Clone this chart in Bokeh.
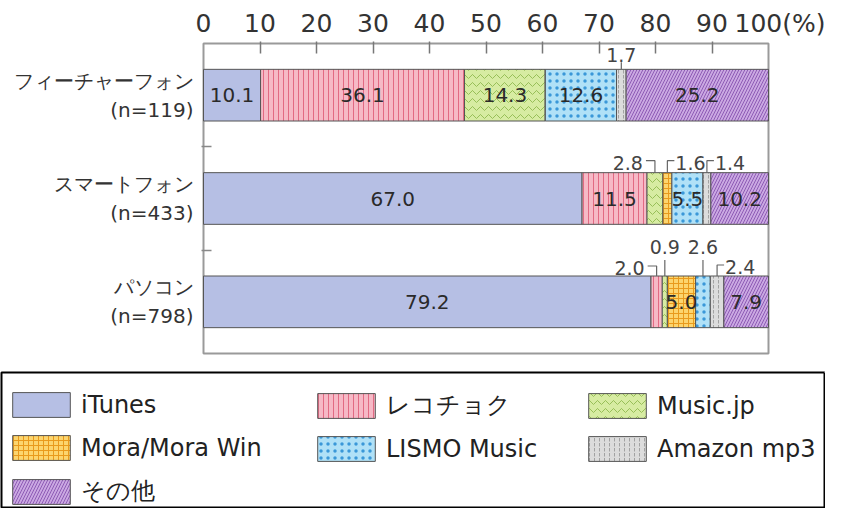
from bokeh.plotting import figure
from bokeh.models import Range1d, FixedTicker, Legend, LegendItem, LinearAxis, ColumnDataSource
from bokeh.layouts import column
from bokeh.embed import file_html
from bokeh.resources import INLINE
from bokeh.core.properties import value

# ---------------- data ----------------
devices = ["フィーチャーフォン\n(n=119)", "スマートフォン\n(n=433)", "パソコン\n(n=798)"]
services = ["iTunes", "レコチョク", "Music.jp", "Mora/Mora Win", "LISMO Music", "Amazon mp3", "その他"]
itunes = [10.1, 67.0, 79.2]
recochoku = [36.1, 11.5, 2.0]
musicjp = [14.3, 2.8, 0.9]
mora = [0.0, 1.6, 5.0]
lismo = [12.6, 5.5, 2.6]
amazon = [1.7, 1.4, 2.4]
other = [25.2, 10.2, 7.9]
x_ticks = [0, 10, 20, 30, 40, 50, 60, 70, 80, 90, 100]
unit_label = "(%)"

series = [itunes, recochoku, musicjp, mora, lismo, amazon, other]

# ---------------- styles ----------------
styles = [
    dict(fill_color="#b6bfe4", hatch_pattern=" ", hatch_color="#b6bfe4", hatch_scale=6, hatch_weight=1),
    dict(fill_color="#f6b9c6", hatch_pattern="|", hatch_color="#e26a83", hatch_scale=5, hatch_weight=1),
    dict(fill_color="#d7eca2", hatch_pattern="v", hatch_color="#98bf58", hatch_scale=8, hatch_weight=1),
    dict(fill_color="#fcd56e", hatch_pattern="+", hatch_color="#e99a1c", hatch_scale=5, hatch_weight=1),
    dict(fill_color="#b0e1f7", hatch_pattern=".", hatch_color="#3a98d8", hatch_scale=7, hatch_weight=2),
    dict(fill_color="#dcdcdc", hatch_pattern=":", hatch_color="#a2a2a2", hatch_scale=5, hatch_weight=1),
    dict(fill_color="#caa8e2", hatch_pattern="/", hatch_color="#8e5bb5", hatch_scale=6, hatch_weight=1),
]

FONT = "DejaVu Sans"
W = 825
H_MAIN, H_LEG = 365, 143
BOX_L, BOX_R, BOX_T, BOX_B = 203, 768, 43, 353      # chart box in pixels
PX_X = 100.0 / (BOX_R - BOX_L)
PX_Y = 3.0 / (BOX_B - BOX_T)
BAR_H = 0.5
FL, FT = BOX_L - 2, BOX_T - 2                          # frame slightly larger than box

p = figure(width=W, height=H_MAIN, output_backend="svg", toolbar_location=None,
           x_range=Range1d(-2 * PX_X, 100 + (W - BOX_R) * PX_X),
           y_range=Range1d(3 + 2 * PX_Y, -2 * PX_Y),
           x_axis_location="above", y_axis_location="left",
           min_border_left=FL, min_border_right=0, min_border_top=FT,
           min_border_bottom=H_MAIN - BOX_B - 2)
p.frame_align = False
p.grid.visible = False
p.outline_line_color = None
p.background_fill_color = "white"
p.border_fill_color = "white"

# chart box
p.quad(left=[0], right=[100], top=[0], bottom=[3], fill_color=None,
       line_color="#9a9a9a", line_width=2)

# top axis 1: tick marks only (inside the box)
xa = p.xaxis[0]
xa.ticker = FixedTicker(ticks=x_ticks[1:-1])
xa.axis_line_color = None
xa.major_tick_in = 12
xa.major_tick_out = 0
xa.major_tick_line_color = "#777777"
xa.major_tick_line_width = 1.5
xa.minor_tick_line_color = None
xa.major_label_standoff = 0
xa.major_label_text_font_size = "1px"
xa.major_label_text_color = None

# top axis 2: tick labels; the last one carries the unit
LABEL_FS = 25
last_pos = 100 + 22 * PX_X
label_ticks = x_ticks[:-1] + [last_pos]
xb = LinearAxis(ticker=FixedTicker(ticks=label_ticks),
                major_label_overrides={last_pos: f"{x_ticks[-1]}{unit_label}"},
                axis_line_color=None, major_tick_line_color=None, minor_tick_line_color=None,
                major_tick_in=0, major_tick_out=0, major_label_standoff=4,
                major_label_text_font=FONT, major_label_text_font_size=f"{LABEL_FS}px",
                major_label_text_color="#333333")
p.add_layout(xb, "above")

# left axis
ya = p.yaxis[0]
centers = [i + 0.5 for i in range(len(devices))]
ya.ticker = FixedTicker(ticks=centers, minor_ticks=[1, 2])
ya.major_label_overrides = {c: d for c, d in zip(centers, devices)}
ya.axis_line_color = None
ya.major_tick_line_color = None
ya.major_tick_in = 0
ya.major_tick_out = 0
ya.minor_tick_in = 10
ya.minor_tick_out = 0
ya.minor_tick_line_color = "#888888"
ya.minor_tick_line_width = 1.5
ya.major_label_standoff = 8
ya.major_label_text_font = FONT
ya.major_label_text_font_size = "20px"
ya.major_label_text_color = "#333333"

# bars
lefts = [0.0] * len(devices)
seg = []
for k, vals in enumerate(series):
    rights = [l + v for l, v in zip(lefts, vals)]
    src = ColumnDataSource(dict(y=centers, left=lefts, right=rights))
    p.hbar(y="y", left="left", right="right", height=BAR_H, source=src,
           line_color="#555555", line_width=1, **styles[k])
    for i in range(len(devices)):
        seg.append((i, k, lefts[i], rights[i], vals[i]))
    lefts = rights

# in-bar labels
ix, iy, it = [], [], []
for (i, k, l, r, v) in seg:
    if v >= 5:
        ix.append((l + r) / 2)
        iy.append(centers[i])
        it.append(f"{v:.1f}")
p.text(x=ix, y=iy, text=it, text_align="center", text_baseline="middle",
       text_font=value(FONT), text_font_size=value("20px"), text_color="#2a2a2a")

# small labels with leader lines
LEADERS = {
    (0, 5): ("up", 7, 14),
    (1, 2): ("left", 12),
    (1, 3): ("right", 12),
    (1, 5): ("right", 12),
    (2, 1): ("left", 10),
    (2, 2): ("up", 16, 29),
    (2, 4): ("up", 16, 29),
    (2, 5): ("right", 11),
}
lx, ly = [], []
txt = {"left": ([], [], []), "center": ([], [], []), "right": ([], [], [])}
for (i, k, l, r, v) in seg:
    if 0 < v < 5 and (i, k) in LEADERS:
        spec = LEADERS[(i, k)]
        cx = (l + r) / 2
        top = centers[i] - BAR_H / 2
        if spec[0] == "up":
            lx.append([cx, cx]); ly.append([top, top - spec[1] * PX_Y])
            t = txt["center"]; t[0].append(cx); t[1].append(top - spec[2] * PX_Y); t[2].append(f"{v:.1f}")
        elif spec[0] == "left":
            h = spec[1] * PX_Y
            lx.append([cx - 9 * PX_X, cx, cx]); ly.append([top - h, top - h, top])
            t = txt["right"]; t[0].append(cx - 12 * PX_X); t[1].append(top - (spec[1] - 2) * PX_Y); t[2].append(f"{v:.1f}")
        else:
            h = spec[1] * PX_Y
            lx.append([cx, cx, cx + 7 * PX_X]); ly.append([top, top - h, top - h])
            t = txt["left"]; t[0].append(cx + 8 * PX_X); t[1].append(top - (spec[1] - 2) * PX_Y); t[2].append(f"{v:.1f}")
p.multi_line(xs=lx, ys=ly, line_color="#666666", line_width=1.2)
for align, (tx, ty, tt) in txt.items():
    if tx:
        p.text(x=tx, y=ty, text=tt, text_align=align, text_baseline="middle",
               text_font=value(FONT), text_font_size=value("19px"), text_color="#444444")

# ---------------- legend panel ----------------
lg = figure(width=W, height=H_LEG, output_backend="svg", toolbar_location=None,
            x_range=Range1d(0, 1), y_range=Range1d(0, 1),
            x_axis_location=None, y_axis_location=None,
            min_border_left=1, min_border_right=1, min_border_top=7, min_border_bottom=1)
lg.frame_align = False
lg.grid.visible = False
lg.outline_line_color = "black"
lg.outline_line_width = 2
lg.background_fill_color = "white"
lg.border_fill_color = "white"

# legend proxies (one sample each, kept outside the visible range)
swatches = []
for k in range(len(services)):
    swatches.append(lg.hbar(y=[5], left=[5], right=[6], height=0.1,
                            line_color="#555555", line_width=1, **styles[k]))

LEG_COLS = [[0, 3, 6], [1, 4], [2, 5]]
COL_X = [4, 309, 580]
ITEM_H, SPACING = 31, 12
frame_h = H_LEG - 7 - 1
top_local = 390 - H_MAIN - 7
for col, xpos in zip(LEG_COLS, COL_X):
    n = len(col)
    h = n * ITEM_H + (n - 1) * SPACING
    leg = Legend(items=[LegendItem(label=services[k], renderers=[swatches[k]]) for k in col],
                 location=(xpos, frame_h - top_local - h), orientation="vertical",
                 glyph_width=72, glyph_height=ITEM_H, label_standoff=4, label_height=ITEM_H,
                 spacing=SPACING, padding=0, margin=0,
                 border_line_color=None, background_fill_alpha=0,
                 label_text_font=FONT, label_text_font_size="24px", label_text_color="#222222")
    lg.add_layout(leg, "center")

open("out.html", "w").write(file_html(column(p, lg), INLINE))
